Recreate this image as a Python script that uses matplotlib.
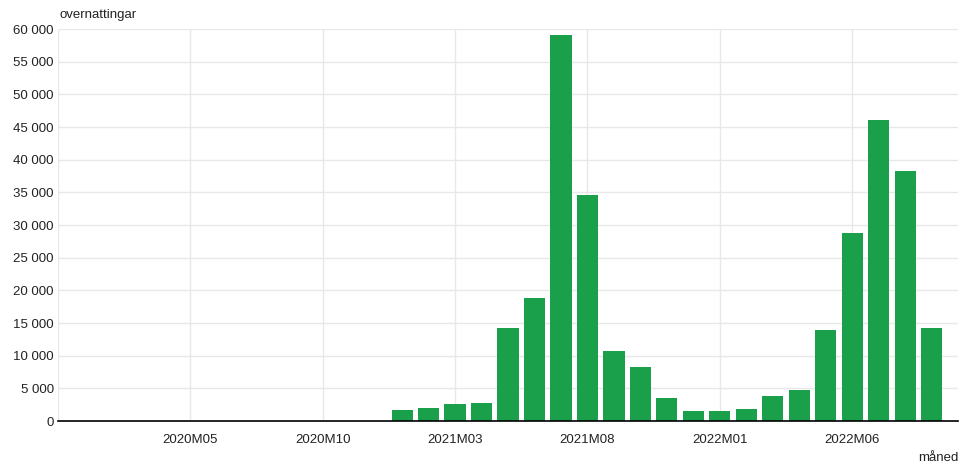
import numpy as np
import matplotlib.pyplot as plt
from matplotlib.ticker import FuncFormatter

# -------------------------
# DATA
# -------------------------
months = [f"{y}M{m:02d}" for y in (2020, 2021, 2022) for m in range(1, 13)][:33]
values = [0, 0, 0, 0, 0, 0, 0, 0, 0, 0, 0, 0,
          1700, 2000, 2600, 2800, 14300, 18800, 59100, 34600, 10700, 8300, 3500, 1500,
          1500, 1900, 3800, 4700, 13900, 28800, 46000, 38300, 14200]
tick_labels = ["2020M05", "2020M10", "2021M03", "2021M08", "2022M01", "2022M06"]
y_label = "overnattingar"
x_label = "måned"

# -------------------------
# PLOT
# -------------------------
plt.rcParams['font.family'] = ['Liberation Sans', 'DejaVu Sans']
fig = plt.figure(figsize=(9.6, 4.63), dpi=100)
ax = fig.add_axes([0.0604, 0.0907, 0.9376, 0.8466])

x = np.arange(len(months))
ax.bar(x, values, width=0.8, color='#1a9f4a', zorder=3)

ax.set_xlim(-1, len(months))
ax.set_ylim(0, 60000)
ax.set_yticks(np.arange(0, 60001, 5000))
ax.yaxis.set_major_formatter(FuncFormatter(lambda v, p: f"{int(v):,}".replace(",", " ")))
ax.set_xticks([months.index(t) for t in tick_labels])
ax.set_xticklabels(tick_labels)

ax.grid(True, color='#e8e8e8', linewidth=1, zorder=0)
ax.axvline(-1, color='#e8e8e8', linewidth=1, zorder=0)
for s in ['top', 'right', 'left']:
    ax.spines[s].set_visible(False)
ax.spines['bottom'].set_color('black')
ax.spines['bottom'].set_linewidth(1.2)
ax.spines['bottom'].set_zorder(4)
ax.tick_params(length=0, labelsize=9.5, colors='#222222')
ax.tick_params(axis='x', pad=9)
ax.tick_params(axis='y', pad=3)

fig.text(0.0625, 0.955, y_label, fontsize=9.5, color='#222222', ha='left', va='bottom')
fig.text(0.998, -0.003, x_label, fontsize=9.5, color='#222222', ha='right', va='bottom')

plt.savefig("out.png", dpi=100)
